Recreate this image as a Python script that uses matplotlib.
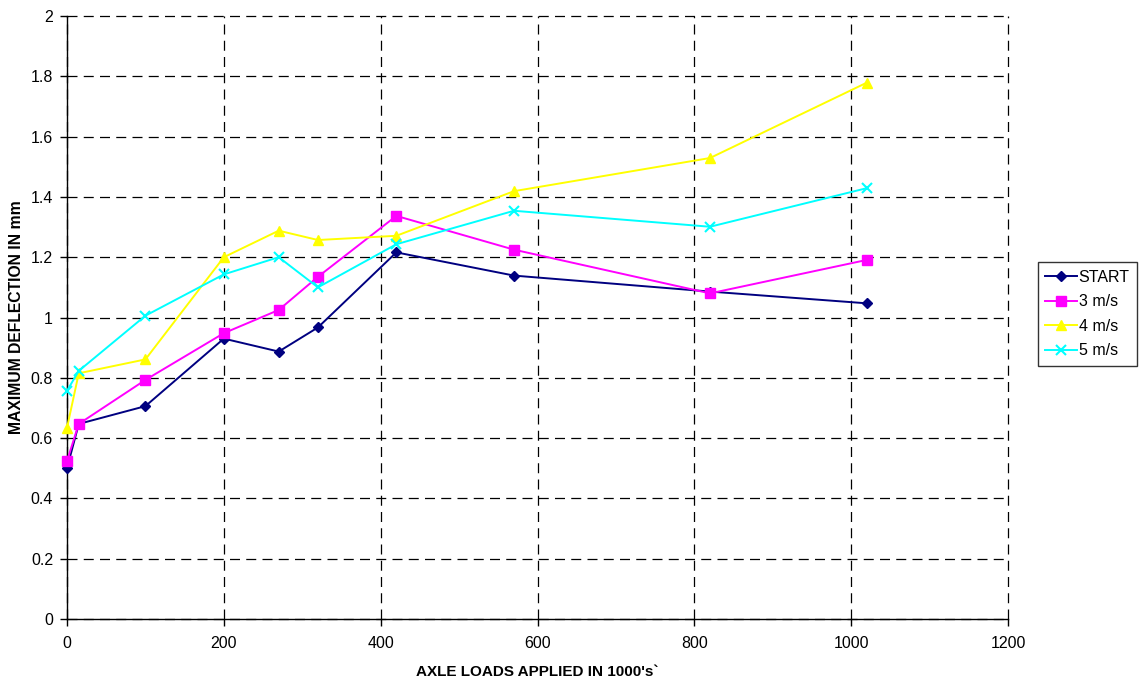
import matplotlib
matplotlib.use("Agg")
import matplotlib.pyplot as plt

plt.rcParams['font.family'] = ['Liberation Sans', 'DejaVu Sans']

axle_loads = [0, 15, 100, 200, 270, 320, 420, 570, 820, 1020]
start = [0.50, 0.647, 0.706, 0.930, 0.887, 0.967, 1.216, 1.139, 1.086, 1.047]
ms3 = [0.524, 0.647, 0.793, 0.948, 1.025, 1.135, 1.337, 1.225, 1.080, 1.191]
ms4 = [0.634, 0.815, 0.861, 1.200, 1.288, 1.257, 1.271, 1.419, 1.529, 1.779]
ms5 = [0.757, 0.823, 1.006, 1.143, 1.200, 1.100, 1.243, 1.354, 1.301, 1.429]
series_names = ['START', '3 m/s', '4 m/s', '5 m/s']
x_ticks = [0, 200, 400, 600, 800, 1000, 1200]
y_ticks = [0, 0.2, 0.4, 0.6, 0.8, 1, 1.2, 1.4, 1.6, 1.8, 2]
y_tick_labels = ['0', '0.2', '0.4', '0.6', '0.8', '1', '1.2', '1.4', '1.6', '1.8', '2']

fig = plt.figure(figsize=(11.41, 6.79), dpi=100)
ax = fig.add_axes([67/1141, 60/679, (1008-67)/1141, (619-16)/679])

styles = [
    dict(color='#000080', marker='D', markersize=5.5),
    dict(color='#FF00FF', marker='s', markersize=7),
    dict(color='#FFFF00', marker='^', markersize=7),
    dict(color='#00FFFF', marker='x', markersize=7, markeredgewidth=1.5),
]
for name, vals, st in zip(series_names, [start, ms3, ms4, ms5], styles):
    ax.plot(axle_loads, vals, label=name, linewidth=1.4, clip_on=False, zorder=3, **st)

ax.set_xlim(0, 1200)
ax.set_ylim(0, 2)
ax.set_xticks(x_ticks)
ax.set_yticks(y_ticks)
ax.set_yticklabels(y_tick_labels)
ax.tick_params(direction='out', length=5, width=1, labelsize=11.5, colors='black')
ax.tick_params(axis='x', pad=7)
ax.tick_params(axis='y', pad=5)
ax.grid(True, color='black', linestyle=(0, (8, 5)), linewidth=0.9)
for gl in ax.get_xgridlines() + ax.get_ygridlines():
    gl.set_clip_on(False)
ax.set_axisbelow(True)
for s in ['top', 'right']:
    ax.spines[s].set_visible(False)
for s in ['left', 'bottom']:
    ax.spines[s].set_color('black')
    ax.spines[s].set_linewidth(1)

ax.set_xlabel("AXLE LOADS APPLIED IN 1000's`", fontsize=11, fontweight='bold', labelpad=10)
ax.set_ylabel("MAXIMUM DEFLECTION IN mm", fontsize=11.3, fontweight='bold', labelpad=5)

leg = fig.legend(loc='center left', bbox_to_anchor=(1038/1141, 1 - 314/679),
                 fontsize=11.5, frameon=True, fancybox=False, edgecolor='black',
                 borderpad=0.45, handlelength=2.0, labelspacing=0.6, handletextpad=0.1,
                 borderaxespad=0)
leg.get_frame().set_linewidth(1)

fig.savefig('out.png', dpi=100)
